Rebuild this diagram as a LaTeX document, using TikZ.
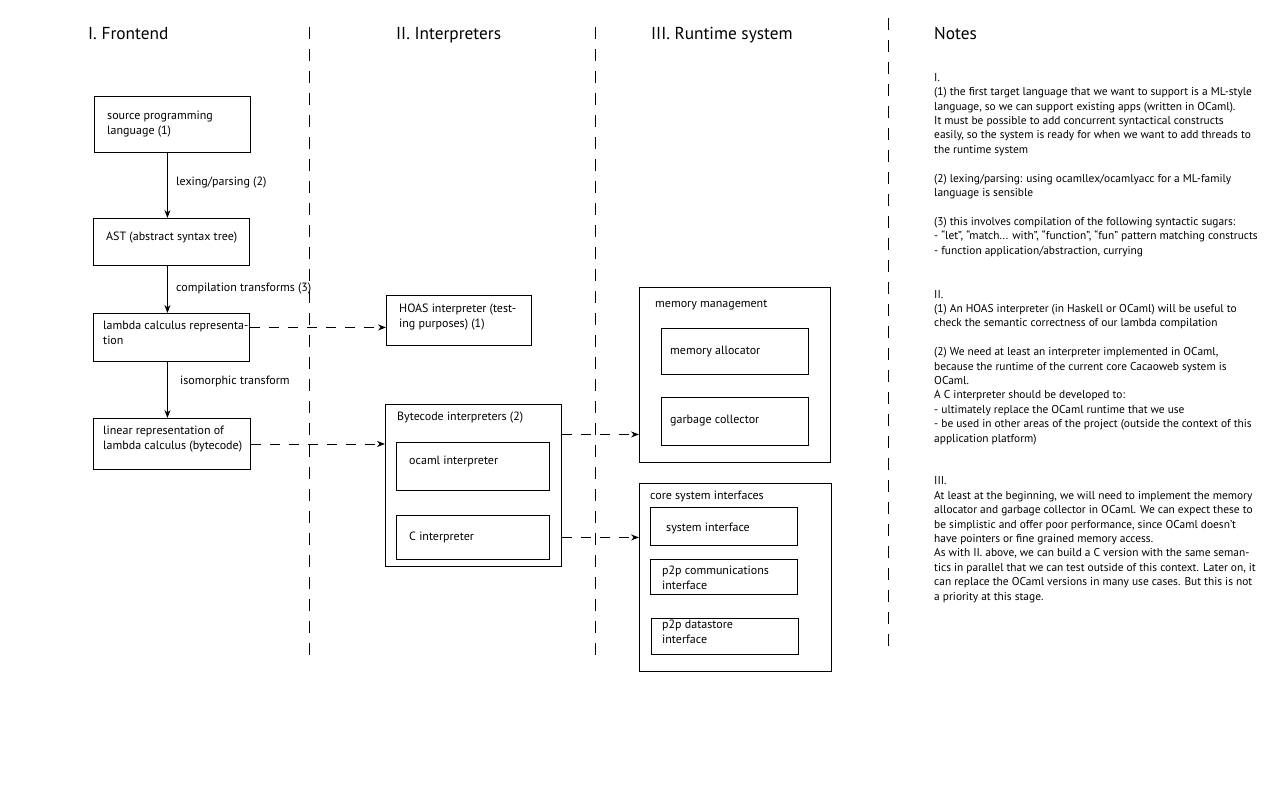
\documentclass[tikz,border=0pt]{standalone}
\usepackage{fontspec}
\setmainfont{PT Sans}
\usetikzlibrary{arrows.meta}

\begin{document}
\begin{tikzpicture}[x=1pt,y=-1pt,
  box/.style={draw, line width=0.9pt, inner sep=0pt, anchor=north west},
  % multi-line texts are placed by the baseline of their last line
  lbl/.style={anchor=base west, inner sep=0pt, align=left, font=\fontsize{12}{14.4}\selectfont},
  note/.style={anchor=base west, inner sep=0pt, align=left, font=\fontsize{11.4}{14.4}\selectfont},
  ttl/.style={anchor=base west, inner sep=0pt, font=\fontsize{17.3}{20}\selectfont},
  flow/.style={draw, line width=0.9pt, -{Stealth[length=8pt,width=6pt]}},
  link/.style={flow, dash pattern=on 10pt off 9pt},
  divider/.style={line width=0.9pt, dash pattern=on 12pt off 10pt}]
\useasboundingbox (0,0) rectangle (1280,800);

% column dividers
\draw[divider] (309,27) -- (309,661);
\draw[divider] (595,27) -- (595,661);
\draw[divider] (888,18) -- (888,655);

% column titles
\node[ttl] (t1) at (88,40) {I. Frontend};
\node[ttl] (t2) at (396,40) {II. Interpreters};
\node[ttl] (t3) at (651,40) {III. Runtime system};
\node[ttl] (t4) at (934,40) {Notes};

% I. Frontend pipeline
\node[box, minimum width=156pt, minimum height=56pt] (src) at (94,96) {};
\node[lbl] (srct) at (107,134) {source programming\\language (1)};
\node[box, minimum width=156pt, minimum height=47pt] (ast) at (93,218) {};
\node[lbl] (astt) at (106,240) {AST (abstract syntax tree)};
\node[box, minimum width=156pt, minimum height=48pt] (lam) at (93,313) {};
\node[lbl] (lamt) at (103,344) {lambda calculus representa-\\tion};
\node[box, minimum width=157pt, minimum height=51pt] (lin) at (93,418) {};
\node[lbl] (lint) at (103,449) {linear representation of\\lambda calculus (bytecode)};

\draw[flow] ([xshift=-5pt]src.south) -- ([xshift=-5pt]src.south |- ast.north);
\node[lbl] (e1) at (176,185) {lexing/parsing (2)};
\draw[flow] ([xshift=-4pt]ast.south) -- ([xshift=-4pt]ast.south |- lam.north);
\node[lbl] (e2) at (176,291) {compilation transforms (3)};
\draw[flow] ([xshift=-4pt]lam.south) -- ([xshift=-4pt]lam.south |- lin.north);
\node[lbl] (e3) at (180,384) {isomorphic transform};

% II. Interpreters
\node[box, minimum width=145pt, minimum height=50pt] (hoas) at (386,295) {};
\node[lbl] (hoast) at (399,327) {HOAS interpreter (test-\\ing purposes) (1)};
\node[box, minimum width=176pt, minimum height=162pt] (byte) at (385,404) {};
\node[lbl] (bytet) at (397,420) {Bytecode interpreters (2)};
\node[box, minimum width=153pt, minimum height=48pt] (ocaml) at (396,442) {};
\node[lbl] (ocamlt) at (409,464) {ocaml interpreter};
\node[box, minimum width=153pt, minimum height=44pt] (cint) at (396,515) {};
\node[lbl] (cintt) at (409,540) {C interpreter};

% III. Runtime system
\node[box, minimum width=191pt, minimum height=175pt] (mem) at (639,287) {};
\node[lbl] (memt) at (655,307) {memory management};
\node[box, minimum width=147pt, minimum height=46pt] (alloc) at (661,328) {};
\node[lbl] (alloct) at (670,354) {memory allocator};
\node[box, minimum width=147pt, minimum height=48pt] (gc) at (661,397) {};
\node[lbl] (gct) at (670,423) {garbage collector};

\node[box, minimum width=192pt, minimum height=188pt] (core) at (639,483) {};
\node[lbl] (coret) at (650,499) {core system interfaces};
\node[box, minimum width=147pt, minimum height=38pt] (sys) at (650,507) {};
\node[lbl] (syst) at (666,531) {system interface};
\node[box, minimum width=147pt, minimum height=35pt] (p2pc) at (650,559) {};
\node[lbl] (p2pct) at (662,589) {p2p communications\\interface};
\node[box, minimum width=147pt, minimum height=36pt] (p2pd) at (651,618) {};
\node[lbl] (p2pdt) at (662,643) {p2p datastore\\interface};

% dashed links between columns
\draw[link] ([yshift=10pt]lam.east) -- ([yshift=10pt]lam.east -| hoas.west);
\draw[link] (lin.east) -- (lin.east -| byte.west);
\draw[link] ([yshift=51pt]byte.east) -- ([yshift=51pt]byte.east -| mem.west);
\draw[link] ([yshift=-52pt]byte.east) -- ([yshift=-52pt]byte.east -| core.west);

% notes
\node[note] (n1) at (934,254) {I.\\
(1) the first target language that we want to support is a ML-style\\
language, so we can support existing apps (written in OCaml).\\
It must be possible to add concurrent syntactical constructs\\
easily, so the system is ready for when we want to add threads to\\
the runtime system\\[14.4pt]
(2) lexing/parsing: using ocamllex/ocamlyacc for a ML-family\\
language is sensible\\[14.4pt]
(3) this involves compilation of the following syntactic sugars:\\
- “let”, “match... with”, “function”, “fun” pattern matching constructs\\
- function application/abstraction, currying};

\node[note] (n2) at (934,442) {II.\\
(1) An HOAS interpreter (in Haskell or OCaml) will be useful to\\
check the semantic correctness of our lambda compilation\\[14.4pt]
(2) We need at least an interpreter implemented in OCaml,\\
because the runtime of the current core Cacaoweb system is\\
OCaml.\\
A C interpreter should be developed to:\\
- ultimately replace the OCaml runtime that we use\\
- be used in other areas of the project (outside the context of this\\
application platform)};

\node[note] (n3) at (934,600) {III.\\
At least at the beginning, we will need to implement the memory\\
allocator and garbage collector in OCaml. We can expect these to\\
be simplistic and offer poor performance, since OCaml doesn’t\\
have pointers or fine grained memory access.\\
As with II. above, we can build a C version with the same seman-\\
tics in parallel that we can test outside of this context. Later on, it\\
can replace the OCaml versions in many use cases. But this is not\\
a priority at this stage.};
\end{tikzpicture}
\end{document}
